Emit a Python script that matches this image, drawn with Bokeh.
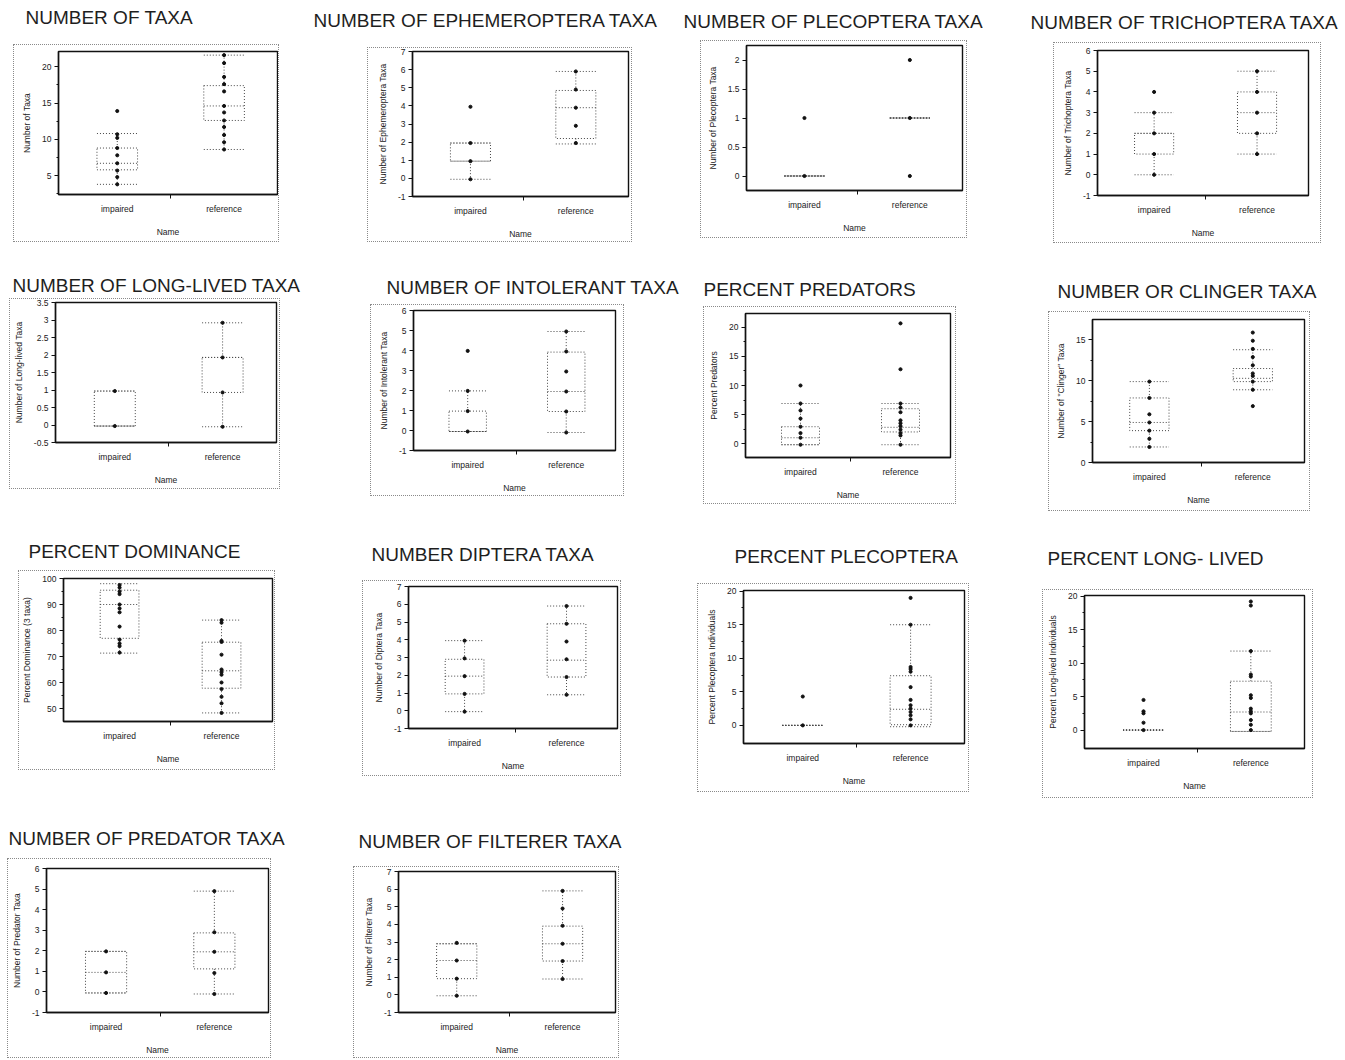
from bokeh.plotting import figure
from bokeh.layouts import row, column
from bokeh.models import Range1d, FixedTicker, Spacer
from bokeh.core.properties import value
from bokeh.embed import file_html
from bokeh.resources import INLINE

GROUPS = ["impaired", "reference"]

TITLES = [
    "NUMBER OF TAXA", "NUMBER OF EPHEMEROPTERA TAXA", "NUMBER OF PLECOPTERA TAXA",
    "NUMBER OF TRICHOPTERA TAXA", "NUMBER OF LONG-LIVED TAXA", "NUMBER OF INTOLERANT TAXA",
    "PERCENT PREDATORS", "NUMBER OR CLINGER TAXA", "PERCENT DOMINANCE", "NUMBER DIPTERA TAXA",
    "PERCENT PLECOPTERA", "PERCENT LONG- LIVED", "NUMBER OF PREDATOR TAXA", "NUMBER OF FILTERER TAXA",
]
YLABELS = [
    "Number of Taxa", "Number of Ephemeroptera Taxa", "Number of Plecoptera Taxa",
    "Number of Trichoptera Taxa", "Number of Long-lived Taxa", "Number of Intolerant Taxa",
    "Percent Predators", 'Number of "Clinger" Taxa', "Percent Dominance (3 taxa)",
    "Number of Diptera Taxa", "Percent Plecoptera Individuals", "Percent Long-lived Individuals",
    "Number of Predator Taxa", "Number of Filterer Taxa",
]
XLABEL = "Name"

YTICKS = [
    [5, 10, 15, 20], [-1, 0, 1, 2, 3, 4, 5, 6, 7], [0, 0.5, 1, 1.5, 2], [-1, 0, 1, 2, 3, 4, 5, 6],
    [-0.5, 0, 0.5, 1, 1.5, 2, 2.5, 3, 3.5], [-1, 0, 1, 2, 3, 4, 5, 6], [0, 5, 10, 15, 20],
    [0, 5, 10, 15], [50, 60, 70, 80, 90, 100], [-1, 0, 1, 2, 3, 4, 5, 6, 7], [0, 5, 10, 15, 20],
    [0, 5, 10, 15, 20], [-1, 0, 1, 2, 3, 4, 5, 6], [-1, 0, 1, 2, 3, 4, 5, 6, 7],
]
YMINOR = [
    [2.5, 7.5, 12.5, 17.5], [], [], [], [], [], [2.5, 7.5, 12.5, 17.5],
    [2.5, 7.5, 12.5], [55, 65, 75, 85, 95], [], [2.5, 7.5, 12.5, 17.5],
    [2.5, 7.5, 12.5, 17.5], [], [],
]

# values per panel: points, and box = [low whisker, q1, median, q3, high whisker]
taxa_imp = [3.8, 4.8, 5.7, 6.7, 7.8, 8.8, 10.2, 10.7, 13.9]
taxa_imp_box = [3.8, 5.8, 6.7, 8.8, 10.8]
taxa_ref = [8.6, 9.6, 10.6, 11.7, 12.6, 13.7, 14.6, 16.6, 17.6, 18.6, 20.5, 21.6]
taxa_ref_box = [8.6, 12.6, 14.6, 17.4, 21.6]

ephem_imp = [-0.05, 0.95, 1.95, 3.95]
ephem_imp_box = [-0.05, 0.95, 0.95, 1.95, 1.95]
ephem_ref = [1.95, 2.9, 3.9, 4.9, 5.9]
ephem_ref_box = [1.9, 2.2, 3.9, 4.85, 5.9]

pleco_imp = [0, 1]
pleco_imp_box = [0, 0, 0, 0, 0]
pleco_ref = [0, 1, 2]
pleco_ref_box = [1, 1, 1, 1, 1]

tricho_imp = [0, 1, 2, 3, 4]
tricho_imp_box = [0, 1, 2, 2, 3]
tricho_ref = [1, 2, 3, 4, 5]
tricho_ref_box = [1, 2, 3, 4, 5]

longlived_imp = [-0.03, 0.97]
longlived_imp_box = [-0.03, -0.03, -0.03, 0.97, 0.97]
longlived_ref = [-0.05, 0.93, 1.93, 2.92]
longlived_ref_box = [-0.05, 0.93, 1.93, 1.93, 2.92]

intol_imp = [-0.05, 0.97, 1.98, 3.98]
intol_imp_box = [-0.05, -0.05, -0.05, 0.97, 1.98]
intol_ref = [-0.1, 0.95, 1.95, 2.95, 3.95, 4.95]
intol_ref_box = [-0.1, 0.95, 1.95, 3.92, 4.95]

pred_imp = [-0.2, 1.0, 1.8, 2.9, 4.3, 5.7, 6.9, 10.0]
pred_imp_box = [-0.2, -0.2, 1.0, 2.9, 6.9]
pred_ref = [-0.2, 1.4, 1.8, 2.4, 3.0, 3.5, 4.0, 5.4, 6.2, 6.9, 12.8, 20.7]
pred_ref_box = [-0.2, 2.0, 2.8, 6.0, 6.9]

cling_imp = [1.9, 2.9, 3.9, 4.9, 5.9, 7.9, 9.9]
cling_imp_box = [1.9, 3.9, 4.9, 7.9, 9.9]
cling_ref = [6.9, 8.9, 9.9, 10.6, 10.9, 11.9, 12.9, 13.9, 14.9, 15.9]
cling_ref_box = [8.9, 9.9, 10.3, 11.5, 13.8]

domin_imp = [71.5, 74, 75, 76.5, 81.5, 87, 88.5, 90, 94, 95, 96.5, 97.5]
domin_imp_box = [71.3, 77, 90, 95.5, 98]
domin_ref = [48.3, 52, 54.5, 57.5, 60, 63, 64, 65, 70.7, 75.6, 76, 83, 84]
domin_ref_box = [48.3, 57.8, 64.5, 75.5, 84]

dipt_imp = [-0.05, 0.95, 1.95, 2.95, 3.95]
dipt_imp_box = [-0.05, 0.95, 1.95, 2.9, 3.95]
dipt_ref = [0.9, 1.9, 2.9, 3.9, 4.9, 5.9]
dipt_ref_box = [0.9, 1.9, 2.85, 4.9, 5.9]

pplec_imp = [0, 4.3]
pplec_imp_box = [0, 0, 0, 0, 0]
pplec_ref = [0, 0.9, 1.5, 2.0, 2.5, 3.0, 3.8, 5.7, 8.0, 8.4, 8.7, 15, 19]
pplec_ref_box = [-0.2, 0.1, 2.4, 7.4, 15]

plong_imp = [0, 1.1, 2.5, 2.8, 4.5]
plong_imp_box = [0, 0, 0, 0, 0]
plong_ref = [0, 0.8, 1.5, 2.5, 2.8, 3.2, 4.8, 5.2, 8.0, 8.3, 11.8, 18.6, 19.2]
plong_ref_box = [-0.2, -0.2, 2.7, 7.3, 11.8]

predtx_imp = [-0.05, 0.95, 1.97]
predtx_imp_box = [-0.05, -0.05, 0.95, 1.97, 1.97]
predtx_ref = [-0.1, 0.92, 1.95, 2.9, 4.9]
predtx_ref_box = [-0.1, 1.12, 1.95, 2.87, 4.9]

filt_imp = [-0.05, 0.92, 1.95, 2.95]
filt_imp_box = [-0.05, 0.92, 1.95, 2.9, 2.9]
filt_ref = [0.9, 1.92, 2.9, 3.92, 4.9, 5.9]
filt_ref_box = [0.9, 1.92, 2.9, 3.9, 5.9]

IMP_POINTS = [taxa_imp, ephem_imp, pleco_imp, tricho_imp, longlived_imp, intol_imp, pred_imp,
              cling_imp, domin_imp, dipt_imp, pplec_imp, plong_imp, predtx_imp, filt_imp]
REF_POINTS = [taxa_ref, ephem_ref, pleco_ref, tricho_ref, longlived_ref, intol_ref, pred_ref,
              cling_ref, domin_ref, dipt_ref, pplec_ref, plong_ref, predtx_ref, filt_ref]
IMP_BOX = [taxa_imp_box, ephem_imp_box, pleco_imp_box, tricho_imp_box, longlived_imp_box,
           intol_imp_box, pred_imp_box, cling_imp_box, domin_imp_box, dipt_imp_box,
           pplec_imp_box, plong_imp_box, predtx_imp_box, filt_imp_box]
REF_BOX = [taxa_ref_box, ephem_ref_box, pleco_ref_box, tricho_ref_box, longlived_ref_box,
           intol_ref_box, pred_ref_box, cling_ref_box, domin_ref_box, dipt_ref_box,
           pplec_ref_box, plong_ref_box, predtx_ref_box, filt_ref_box]

# ---------------- layout (screen pixel coordinates) ----------------
YRANGE = [(2.4, 22.1), (-1, 7), (-0.25, 2.25), (-1, 6), (-0.5, 3.5), (-1, 6), (-2.4, 22.4),
          (0, 17.5), (45, 100), (-1, 7), (-2.7, 20.1), (-2.75, 20.1), (-1, 6), (-1, 7)]
OUTER = [(13, 44, 279, 242), (367, 47, 632, 242), (700, 40, 967, 238), (1053, 42, 1321, 243),
         (9, 298, 280, 489), (370, 304, 624, 496), (703, 306, 956, 504), (1048, 311, 1310, 511),
         (18, 570, 275, 770), (362, 580, 621, 776), (697, 583, 969, 792), (1042, 589, 1313, 798),
         (7, 858, 271, 1058), (353, 866, 619, 1058)]
FRAME = [(58, 51, 277, 194), (412, 51, 628, 197), (746, 45, 962, 190), (1097, 50, 1308, 195),
         (53, 302, 276, 442), (413, 310, 615, 451), (745, 313, 950, 457), (1092, 319, 1304, 462),
         (58, 578, 272, 721), (408, 586, 617, 728), (743, 590, 964, 743), (1084, 595, 1304, 748),
         (45, 868, 268, 1013), (398, 871, 615, 1014)]
TITLE_X = [25, 313, 683, 1030, 12, 386, 703, 1057, 28, 371, 734, 1047, 8, 358]
TITLE_Y = [17, 20, 21, 22, 285, 287, 289, 291, 551, 554, 556, 558, 838, 841]
TITLE_W = [175, 345, 300, 310, 295, 295, 215, 265, 218, 228, 228, 225, 280, 268]
ROWS = [[0, 1, 2, 3], [4, 5, 6, 7], [8, 9, 10, 11], [12, 13]]
ROW_TOP = [0, 243, 511, 798]
ROW_BOTTOM = [243, 511, 798, 1058]
TITLE_HALF = 13

FONT = "Liberation Sans"
LINE = "#474747"
DASH = "1 2"
HALF = 0.19
XPOS = [1, 2]


def make_panel(i):
    ox0, oy0, ox1, oy1 = OUTER[i]
    fx0, fy0, fx1, fy1 = FRAME[i]
    # the element sits 1px inside the dotted outline drawn around it
    bx0, by0, bx1, by1 = ox0 + 1, oy0 + 1, ox1 - 1, oy1 - 1
    p = figure(width=bx1 - bx0, height=by1 - by0, title=None,
               x_range=Range1d(0.45, 2.5), y_range=Range1d(*YRANGE[i]),
               output_backend="svg", toolbar_location=None, tools="",
               min_border_left=fx0 - bx0, min_border_right=max(bx1 - fx1, 1),
               min_border_top=fy0 - by0, min_border_bottom=by1 - fy1,
               styles={"outline": "1px dotted #8a8a8a", "outline-offset": "0px"})
    p.grid.visible = False
    p.outline_line_color = "#111111"
    p.outline_line_width = 1.4
    p.background_fill_color = "white"
    p.border_fill_color = "white"

    xa = p.xaxis[0]
    xa.ticker = FixedTicker(ticks=XPOS, minor_ticks=[1.5])
    xa.major_label_overrides = {XPOS[k]: GROUPS[k] for k in range(2)}
    xa.major_tick_out = 0
    xa.major_tick_in = 0
    xa.minor_tick_out = 4
    xa.minor_tick_in = 0
    xa.minor_tick_line_color = "#111111"
    xa.major_label_standoff = 5
    xa.axis_label = XLABEL
    xa.axis_label_standoff = 10
    xa.axis_line_color = "#111111"
    xa.axis_line_width = 1.4

    ya = p.yaxis[0]
    ya.ticker = FixedTicker(ticks=YTICKS[i], minor_ticks=YMINOR[i])
    ya.major_label_overrides = {t: f"{t:g}" for t in YTICKS[i]}
    ya.major_tick_out = 4
    ya.major_tick_in = 0
    ya.minor_tick_out = 2
    ya.minor_tick_in = 0
    ya.major_tick_line_color = "#111111"
    ya.minor_tick_line_color = "#111111"
    ya.major_label_standoff = 3
    ya.axis_label = YLABELS[i]
    ya.axis_label_standoff = 7
    ya.axis_line_color = "#111111"
    ya.axis_line_width = 1.4

    for ax in (xa, ya):
        ax.major_label_text_font = FONT
        ax.major_label_text_font_size = "8.5px"
        ax.major_label_text_color = "#222222"
        ax.axis_label_text_font = FONT
        ax.axis_label_text_font_size = "8.5px"
        ax.axis_label_text_font_style = "normal"
        ax.axis_label_text_color = "#222222"

    for k, (pts, box) in enumerate([(IMP_POINTS[i], IMP_BOX[i]), (REF_POINTS[i], REF_BOX[i])]):
        xc = XPOS[k]
        lo, q1, med, q3, hi = box
        p.quad(left=[xc - HALF], right=[xc + HALF], bottom=[q1], top=[q3],
               fill_color=None, line_color=LINE, line_dash=DASH, line_width=1)
        p.segment(x0=[xc - HALF, xc - HALF, xc - HALF, xc, xc],
                  x1=[xc + HALF, xc + HALF, xc + HALF, xc, xc],
                  y0=[med, lo, hi, q3, q1], y1=[med, lo, hi, hi, lo],
                  line_color=LINE, line_dash=DASH, line_width=1)
        p.scatter(x=[xc] * len(pts), y=pts, size=3.1, color="#111111")
    return p


def make_title(i, cx0, cx1):
    top = TITLE_Y[i] - TITLE_HALF
    bottom = TITLE_Y[i] + TITLE_HALF
    p = figure(width=cx1 - cx0, height=bottom - top, title=None,
               x_range=Range1d(cx0, cx1), y_range=Range1d(bottom, top),
               output_backend="svg", toolbar_location=None, tools="",
               x_axis_location=None, y_axis_location=None, min_border=0)
    p.grid.visible = False
    p.outline_line_color = None
    p.background_fill_color = None
    p.border_fill_color = None
    p.text(x=[TITLE_X[i]], y=[TITLE_Y[i]], text=[TITLES[i]], text_font=value(FONT),
           text_font_size="19px", text_baseline="middle", text_align="left",
           text_color="#1e1e1e")
    return p


blocks = []
for r, idx in enumerate(ROWS):
    rt, rb = ROW_TOP[r], ROW_BOTTOM[r]
    children = []
    cursor = 0
    for i in idx:
        ox0, oy0, ox1, oy1 = OUTER[i]
        cx0 = min(ox0, TITLE_X[i])
        cx1 = max(ox1, TITLE_X[i] + TITLE_W[i])
        if cx0 - cursor > 0:
            children.append(Spacer(width=cx0 - cursor, height=1))
        items = []
        t_top = TITLE_Y[i] - TITLE_HALF
        t_bot = TITLE_Y[i] + TITLE_HALF
        if t_top - rt > 0:
            items.append(Spacer(width=cx1 - cx0, height=t_top - rt))
        items.append(make_title(i, cx0, cx1))
        if oy0 + 1 - t_bot > 0:
            items.append(Spacer(width=cx1 - cx0, height=oy0 + 1 - t_bot))
        line = []
        if ox0 + 1 - cx0 > 0:
            line.append(Spacer(width=ox0 + 1 - cx0, height=1))
        line.append(make_panel(i))
        if cx1 - (ox1 - 1) > 0:
            line.append(Spacer(width=cx1 - (ox1 - 1), height=1))
        items.append(row(*line))
        if rb - (oy1 - 1) > 0:
            items.append(Spacer(width=cx1 - cx0, height=rb - (oy1 - 1)))
        children.append(column(*items))
        cursor = cx1
    blocks.append(row(*children))

layout = column(*blocks)
open("out.html", "w").write(file_html(layout, INLINE))
